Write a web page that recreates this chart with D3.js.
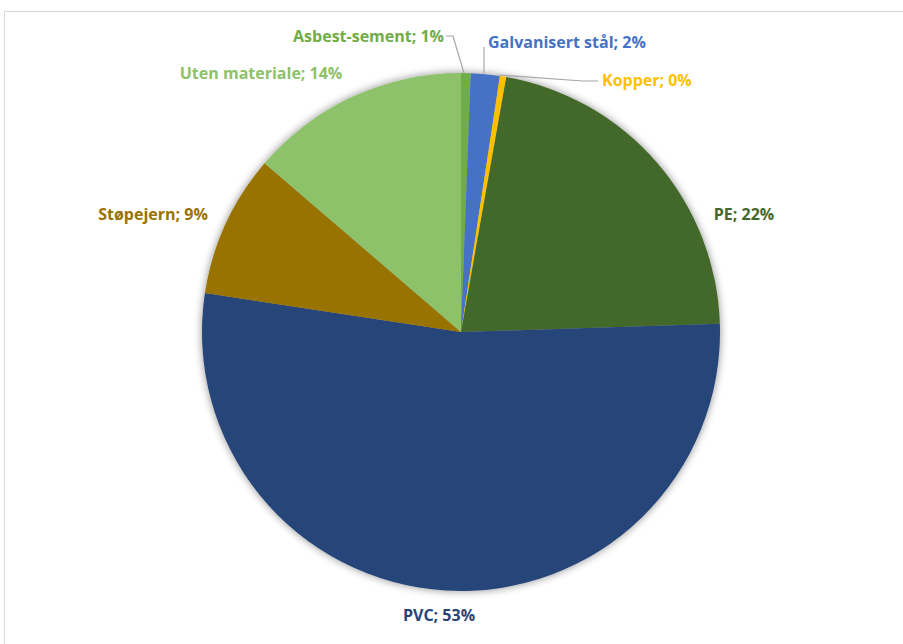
<!DOCTYPE html>
<html>
<head>
<meta charset="utf-8">
<script src="https://cdn.jsdelivr.net/npm/d3@7"></script>
<style>
  body { margin: 0; background: #fff; }
  text { font-family: "Open Sans", sans-serif; font-weight: bold; }
</style>
</head>
<body>
<svg id="chart" width="903" height="644"></svg>
<script>
// Materials and shares (%), Excel order clockwise from 12 o'clock
var materials = ["Asbest-sement", "Galvanisert stål", "Kopper", "PE", "PVC", "Støpejern", "Uten materiale"];
var shares = [0.6, 1.8, 0.4, 21.7, 52.9, 8.9, 13.7];
var labels = ["1%", "2%", "0%", "22%", "53%", "9%", "14%"];
var sliceColors = ["#70AD47", "#4472C4", "#FFC000", "#43682B", "#264478", "#997300", "#8DC16A"];

var svg = d3.select("#chart");

// chart area border
svg.append("rect")
  .attr("x", 4.5).attr("y", 11.5)
  .attr("width", 940).attr("height", 680)
  .attr("fill", "none").attr("stroke", "#d9d9d9");

var cx = 461, cy = 332, radius = 259;

// soft shadow like the Excel one
var defs = svg.append("defs");
var f = defs.append("filter").attr("id", "shadow")
  .attr("x", "-20%").attr("y", "-20%").attr("width", "140%").attr("height", "140%");
f.append("feGaussianBlur").attr("in", "SourceAlpha").attr("stdDeviation", 4).attr("result", "b");
f.append("feOffset").attr("dx", 0).attr("dy", 0).attr("result", "o");
f.append("feComponentTransfer").append("feFuncA").attr("type", "linear").attr("slope", 0.45);
var m = f.append("feMerge");
m.append("feMergeNode");
m.append("feMergeNode").attr("in", "SourceGraphic");

var pie = d3.pie().sort(null).value(function(d) { return d; });
var arcs = pie(shares);
var arc = d3.arc().innerRadius(0).outerRadius(radius);

var g = svg.append("g").attr("transform", "translate(" + cx + "," + cy + ")");

g.append("g").attr("filter", "url(#shadow)")
  .selectAll("path")
  .data(arcs)
  .enter()
  .append("path")
  .attr("d", arc)
  .attr("fill", function(d, i) { return sliceColors[i]; });

// label positions (relative to center), anchor
var labelPos = [
  {x: -17, y: -296, anchor: "end"},
  {x: 27, y: -290, anchor: "start"},
  {x: 141, y: -252, anchor: "start"},
  {x: 283, y: -118, anchor: "middle"},
  {x: -22, y: 283, anchor: "middle"},
  {x: -308, y: -118, anchor: "middle"},
  {x: -200, y: -259, anchor: "middle"}
];

// leader lines for the three small slices
var leaders = [
  [[-15, -296], [-8, -296], [3, -259]],
  [[23, -285], [23, -259]],
  [[137, -251], [122, -251], [38, -257]]
];
g.selectAll("polyline.leader")
  .data(leaders)
  .enter()
  .append("polyline")
  .attr("class", "leader")
  .attr("points", function(d) { return d.map(function(p) { return p.join(","); }).join(" "); })
  .attr("fill", "none")
  .attr("stroke", "#a6a6a6")
  .attr("stroke-width", 1.2);

g.selectAll("text.lbl")
  .data(arcs)
  .enter()
  .append("text")
  .attr("class", "lbl")
  .attr("x", function(d, i) { return labelPos[i].x; })
  .attr("y", function(d, i) { return labelPos[i].y; })
  .attr("dy", "0.35em")
  .attr("text-anchor", function(d, i) { return labelPos[i].anchor; })
  .attr("font-size", 16)
  .attr("fill", function(d, i) { return sliceColors[i]; })
  .text(function(d, i) { return materials[i] + "; " + labels[i]; });
</script>
</body>
</html>
